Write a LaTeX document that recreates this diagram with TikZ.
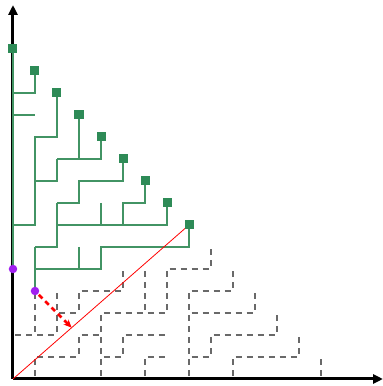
\documentclass[tikz,border=0pt]{standalone}
\usetikzlibrary{arrows.meta}
\definecolor{treegreen}{RGB}{46,139,87}
\definecolor{linegreen}{RGB}{66,148,100}
\definecolor{dotpurple}{RGB}{160,32,240}
\definecolor{dashgray}{RGB}{105,105,105}
\tikzset{
  axisline/.style={line width=3pt, black, -{Triangle[length=10pt,width=9pt]}},
  dualedge/.style={dashgray, line width=1.6pt, dash pattern=on 6pt off 5pt, dash phase=8.5pt},
  treeedge/.style={linegreen, line width=2pt},
  leafsq/.style={rectangle, fill=treegreen, minimum size=9pt, inner sep=0pt},
  rootdot/.style={circle, fill=dotpurple, minimum size=8.5pt, inner sep=0pt},
  diagline/.style={red, line width=0.8pt},
  movearrow/.style={red, line width=2.6pt, dash pattern=on 5pt off 4pt, -{Stealth[length=8pt,width=7pt]}, shorten <=1pt}
}
\begin{document}
\begin{tikzpicture}[x=22pt, y=22pt]
\useasboundingbox (-13pt,-7pt) rectangle (370pt,379pt);
% grid points
\foreach \i in {0,...,15} {
  \foreach \j in {0,...,15} {
    \coordinate (p\i-\j) at (\i,\j);
  }
}
\coordinate (xend) at (370pt,0);
\coordinate (yend) at (0,374pt);
\coordinate (hit) at (2.6667,2.3333);
% axes
\draw[axisline] (p0-0) -- (xend);
\draw[axisline] (p0-0) -- (yend);
% dashed dual tree
\foreach \a/\b in {1-4/1-2, 0-2/2-2, 2-4/2-2, 2-3/3-3, 3-4/3-3, 3-4/5-4, 5-5/5-4,
  3-2/4-2, 3-2/3-1, 1-1/3-1, 1-1/1-0, 4-3/4-0, 4-3/7-3, 6-5/6-3, 7-5/7-3, 7-5/9-5,
  9-6/9-5, 4-1/5-1, 5-2/5-1, 5-2/7-2, 6-1/7-1, 6-1/6-0, 8-4/8-0, 8-4/10-4, 10-5/10-4,
  8-3/11-3, 11-4/11-3, 9-2/12-2, 12-3/12-2, 9-2/9-1, 8-1/9-1, 10-1/13-1, 13-2/13-1,
  10-1/10-0, 14-1/14-0} {
  \draw[dualedge] (p\a) -- (p\b);
}
% leaves
\foreach \k in {0,...,8} {
  \pgfmathtruncatemacro{\h}{15-\k}
  \coordinate (c\k) at (p\k-\h);
}
% green tree
\draw[treeedge] (p0-5) -- (c0);
\draw[treeedge] (c1) |- (p0-13);
\draw[treeedge] (p0-12) -- (p1-12);
\draw[treeedge] (c2) |- (p1-11) -- (p1-7) -- (p0-7);
\draw[treeedge] (p1-9) -- (p2-9) -- (p2-10);
\draw[treeedge] (c3) -- (p3-10);
\draw[treeedge] (c4) |- (p2-10);
\draw[treeedge] (c5) |- (p3-9) -- (p3-8) -- (p2-8);
\draw[treeedge] (p2-8) -- (p2-6) -- (p1-6);
\draw[treeedge] (p1-4) -- (p1-6);
\draw[treeedge] (c6) |- (p5-8) -- (p5-7);
\draw[treeedge] (c7) |- (p2-7);
\draw[treeedge] (p4-8) -- (p4-7);
\draw[treeedge] (c8) |- (p4-6) -- (p4-5) -- (p1-5);
\draw[treeedge] (p3-6) -- (p3-5);
% diagonal
\draw[diagline] (p0-0) -- (c8);
% squares
\foreach \k in {0,...,8} {
  \node[leafsq] (s\k) at (c\k) {};
}
% roots
\node[rootdot] (d0) at (p0-5) {};
\node[rootdot] (d1) at (p1-4) {};
% move arrow
\draw[movearrow] (d1) -- (hit);
\end{tikzpicture}
\end{document}
